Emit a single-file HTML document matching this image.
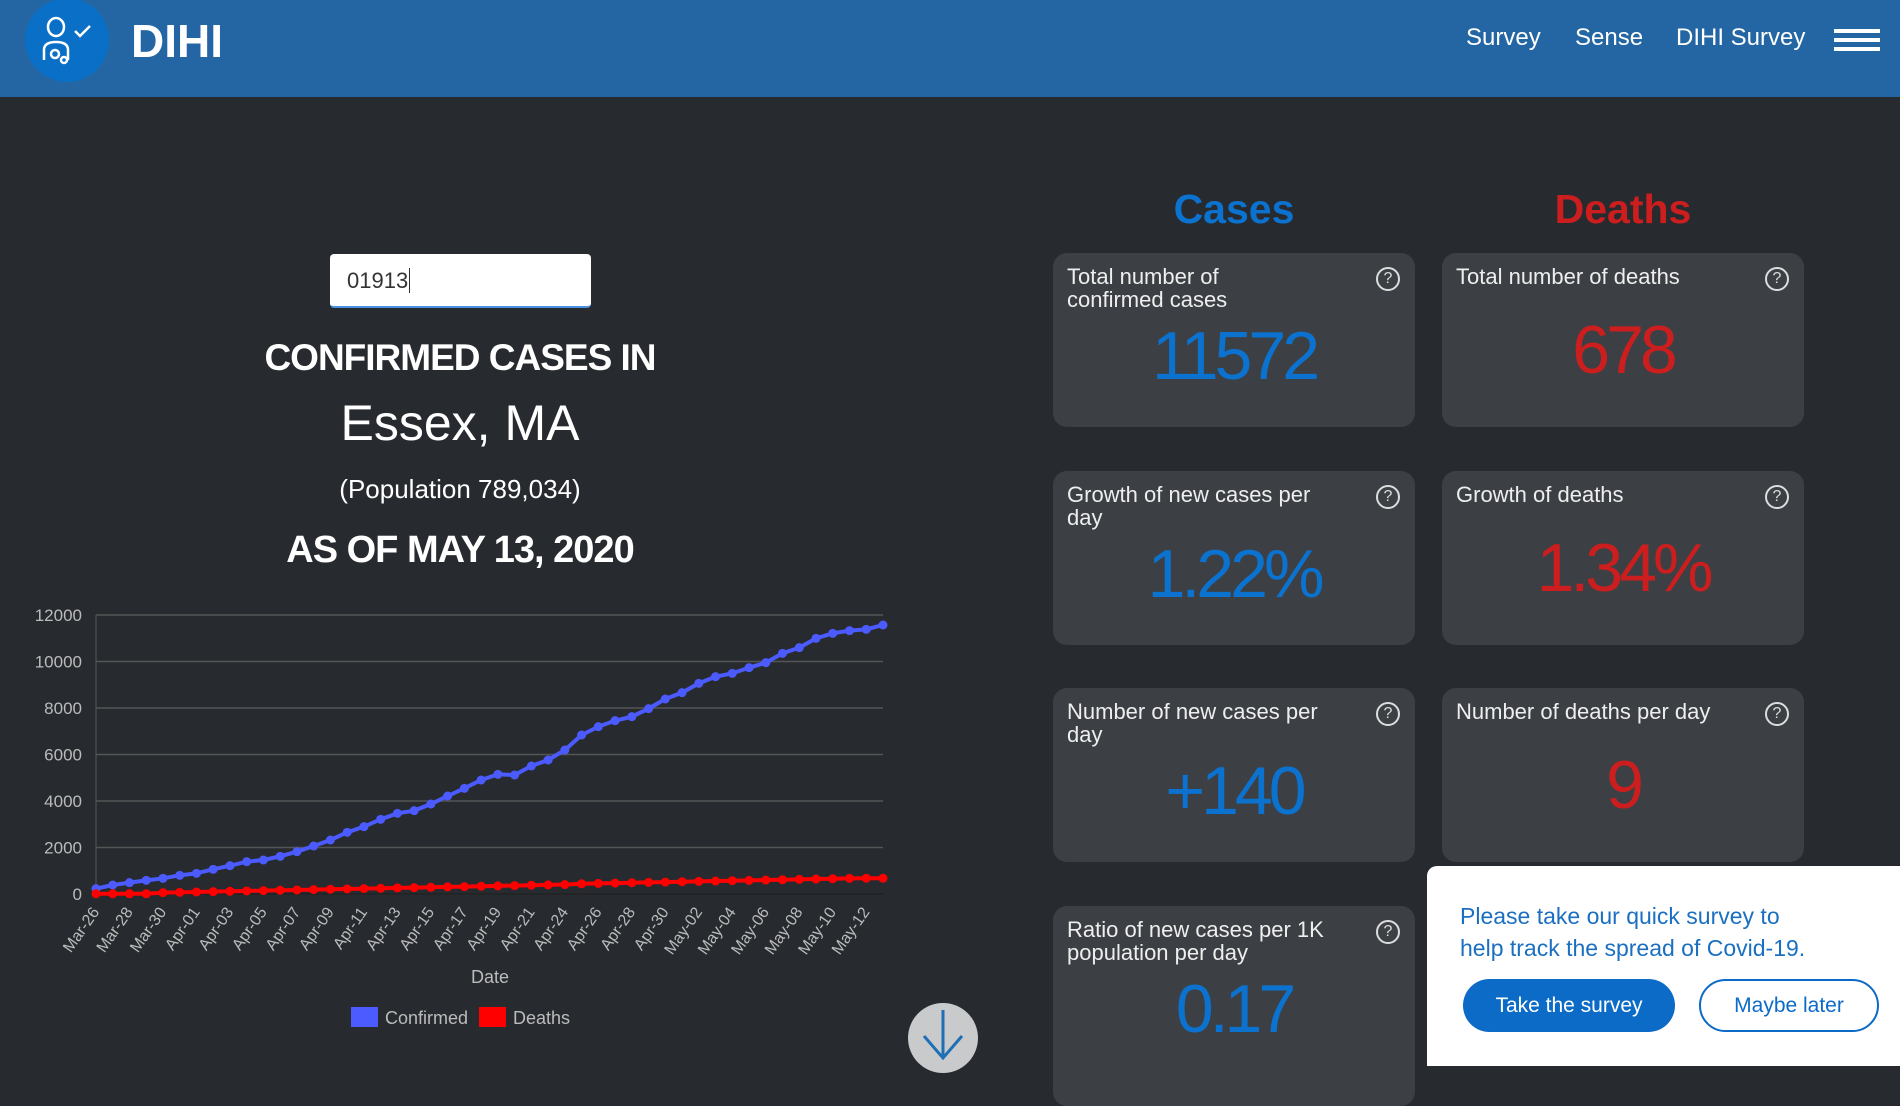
<!DOCTYPE html>
<html><head><meta charset="utf-8"><style>
*{margin:0;padding:0;box-sizing:border-box}
body{width:1900px;height:1071px;overflow:hidden;background:#272b2f;font-family:"Liberation Sans",sans-serif;position:relative;color:#fff}
.abs{position:absolute}
.hdr{left:0;top:0;width:1900px;height:97px;background:#2366a3}
.nav{top:24px;font-size:24px;color:#fff}
.card{position:absolute;width:362px;height:174px;background:#3c4044;border-radius:14px}
.card .lb{position:absolute;left:14px;top:12px;font-size:22px;line-height:23px;color:#eee;width:310px;white-space:nowrap}
.card .q{position:absolute;right:15px;top:14px;width:24px;height:24px;border:2px solid #ddd;border-radius:50%;font-size:16px;text-align:center;line-height:20px;color:#ddd}
.card .v{position:absolute;left:0;width:100%;text-align:center;font-size:68px;letter-spacing:-4px}
.b{color:#0b72cf}.r{color:#cc1e1e}
.ctr{position:absolute;left:160px;width:600px;text-align:center}
</style></head><body>
<div class="abs hdr"></div>
<div class="abs" style="left:25px;top:-2px;width:84px;height:84px;border-radius:50%;background:#0a6fc6"></div>
<svg class="abs" style="left:40px;top:16px" width="60" height="52" viewBox="0 0 60 52" fill="none" stroke="#fff" stroke-width="2.5"><ellipse cx="16" cy="11" rx="8" ry="9"/><path d="M4 44 V34 q0-8 12-8 q12 0 12 8 V44"/><path d="M35 15 l5 5 l10-10"/><circle cx="15" cy="38" r="4"/><circle cx="24" cy="44" r="3"/></svg>
<div class="abs" style="left:131px;top:14px;font-size:46px;font-weight:bold">DIHI</div>
<div class="abs nav" style="left:1466px">Survey</div>
<div class="abs nav" style="left:1575px">Sense</div>
<div class="abs nav" style="left:1676px">DIHI Survey</div>
<div class="abs" style="left:1834px;top:29px;width:46px;height:4px;background:#fff"></div>
<div class="abs" style="left:1834px;top:38px;width:46px;height:4px;background:#fff"></div>
<div class="abs" style="left:1834px;top:47px;width:46px;height:4px;background:#fff"></div>

<div class="abs" style="left:330px;top:254px;width:261px;height:54px;background:#fff;border-radius:4px;border-bottom:2px solid #4a90e2;color:#333;font-size:22px;padding:14px 17px">01913<span style="border-left:1px solid #333;margin-left:1px"></span></div>
<div class="ctr" style="top:337px;font-size:37px;font-weight:bold;letter-spacing:-1px">CONFIRMED CASES IN</div>
<div class="ctr" style="top:394px;font-size:50px;font-weight:300">Essex, MA</div>
<div class="ctr" style="top:474px;font-size:26px">(Population 789,034)</div>
<div class="ctr" style="top:529px;font-size:38px;font-weight:bold;letter-spacing:-1px">AS OF MAY 13, 2020</div>

<svg class="abs" style="left:0;top:590px" width="960" height="440" id="ch"></svg>

<div class="abs" style="left:908px;top:1003px;width:70px;height:70px;border-radius:50%;background:#c8cacc"></div>
<svg class="abs" style="left:918px;top:1008px" width="50" height="60" fill="none" stroke="#1f6fb5" stroke-width="3"><path d="M25 2 V48 M6 28 L25 50 L44 28"/></svg>

<div class="abs b" style="left:1053px;top:186px;width:362px;text-align:center;font-size:41px;font-weight:bold">Cases</div>
<div class="abs r" style="left:1442px;top:186px;width:362px;text-align:center;font-size:41px;font-weight:bold">Deaths</div>

<div class="card" style="left:1053px;top:253px"><div class="lb">Total number of<br>confirmed cases</div><div class="q">?</div><div class="v b" style="top:64px">11572</div></div>
<div class="card" style="left:1442px;top:253px"><div class="lb">Total number of deaths</div><div class="q">?</div><div class="v r" style="top:58px">678</div></div>
<div class="card" style="left:1053px;top:471px"><div class="lb">Growth of new cases per<br>day</div><div class="q">?</div><div class="v b" style="top:64px">1.22%</div></div>
<div class="card" style="left:1442px;top:471px"><div class="lb">Growth of deaths</div><div class="q">?</div><div class="v r" style="top:58px">1.34%</div></div>
<div class="card" style="left:1053px;top:688px"><div class="lb">Number of new cases per<br>day</div><div class="q">?</div><div class="v b" style="top:64px">+140</div></div>
<div class="card" style="left:1442px;top:688px"><div class="lb">Number of deaths per day</div><div class="q">?</div><div class="v r" style="top:58px">9</div></div>
<div class="card" style="left:1053px;top:906px;height:200px"><div class="lb">Ratio of new cases per 1K<br>population per day</div><div class="q">?</div><div class="v b" style="top:64px">0.17</div></div>

<div class="abs" style="left:1427px;top:866px;width:480px;height:200px;background:#fff;border-radius:10px 0 0 0"></div>
<div class="abs" style="left:1460px;top:900px;font-size:23px;line-height:32px;color:#1a6fc0">Please take our quick survey to<br>help track the spread of Covid-19.</div>
<div class="abs" style="left:1463px;top:979px;width:212px;height:53px;border-radius:27px;background:#0b6bc6;color:#fff;font-size:21px;text-align:center;line-height:53px">Take the survey</div>
<div class="abs" style="left:1699px;top:979px;width:180px;height:53px;border-radius:27px;border:2px solid #0b6bc6;color:#0b6bc6;font-size:21px;text-align:center;line-height:49px">Maybe later</div>

<script>
var s=document.getElementById('ch'),o=590,h='';
var L=96,R=883,T=615-o,B=894-o;
function Y(v){return B-(B-T)*v/12000}
for(var i=0;i<=6;i++){var y=Y(i*2000);h+='<line x1="'+L+'" x2="'+R+'" y1="'+y+'" y2="'+y+'" stroke="'+(i?'#555':'#222')+'" stroke-width="1.5"/><text x="82" y="'+(y+6)+'" text-anchor="end" font-size="17" fill="#bbb" font-family="Liberation Sans">'+(i*2000)+'</text>';}
h+='<line x1="'+L+'" x2="'+L+'" y1="'+T+'" y2="'+B+'" stroke="#555"/>';
var zy=[926,915,908,901,895,886,880,868,857,845,840,829,815,798,780,757,740,718,700,692,672,648,625,600,583,585,558,540,510,465,440,422,410,386,357,338,310,290,280,263,248,220,203,175,160,152,148,135];
var n=48,dx=(R-L)/47,pc='',pd='',dots='';
var lab=['Mar-26','Mar-28','Mar-30','Apr-01','Apr-03','Apr-05','Apr-07','Apr-09','Apr-11','Apr-13','Apr-15','Apr-17','Apr-19','Apr-21','Apr-24','Apr-26','Apr-28','Apr-30','May-02','May-04','May-06','May-08','May-10','May-12'];
for(var i=0;i<n;i++){var x=L+i*dx,yc=580+zy[i]/3-o,vd=i<4?10:Math.min(678,i*14.5+(i>28?20:0)),yd=Y(vd);
pc+=(i?'L':'M')+x+' '+yc;pd+=(i?'L':'M')+x+' '+yd;
dots+='<circle cx="'+x+'" cy="'+yc+'" r="4.5" fill="#4b5bff"/><circle cx="'+x+'" cy="'+yd+'" r="4.5" fill="#f00"/>';
if(i%2==0){var lx=x+4,ly=B+18;h+='<text transform="translate('+lx+','+ly+') rotate(-55)" text-anchor="end" font-size="16" fill="#bbb" font-family="Liberation Sans">'+lab[i/2]+'</text>';}}
h+='<path d="'+pd+'" stroke="#f00" stroke-width="4" fill="none"/><path d="'+pc+'" stroke="#4b5bff" stroke-width="4" fill="none"/>'+dots;
h+='<text x="490" y="'+(983-o)+'" text-anchor="middle" font-size="18" fill="#bbb" font-family="Liberation Sans">Date</text>';
h+='<rect x="351" y="'+(1007-o)+'" width="27" height="20" fill="#4b5bff"/><text x="385" y="'+(1024-o)+'" font-size="18" fill="#bbb" font-family="Liberation Sans">Confirmed</text>';
h+='<rect x="479" y="'+(1007-o)+'" width="27" height="20" fill="#f00"/><text x="513" y="'+(1024-o)+'" font-size="18" fill="#bbb" font-family="Liberation Sans">Deaths</text>';
s.innerHTML=h;
</script>
</body></html>
